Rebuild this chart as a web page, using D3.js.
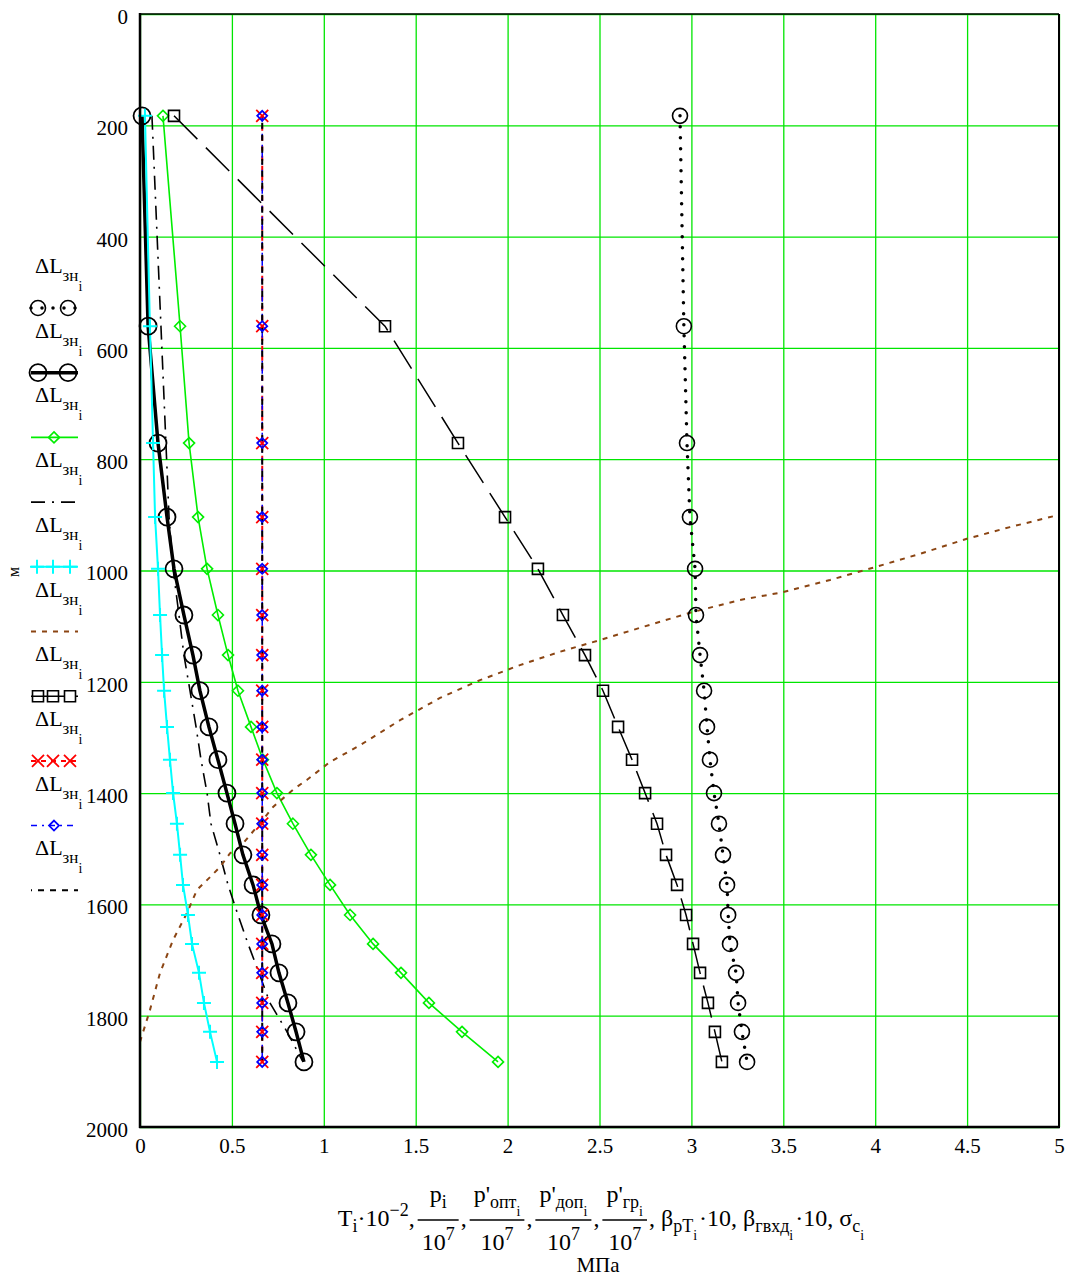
<!DOCTYPE html>
<html>
  <head>
    <meta charset="utf-8">
    <title>ΔL зн по глубине</title>
    <style>
      body{margin:0;background:#fff}
      svg{display:block;font-family:"Liberation Serif","DejaVu Serif",serif}
      svg text{font-family:"Liberation Serif","DejaVu Serif",serif}
    </style>
  </head>
  <body>
    <svg width="1069" height="1277"></svg>
    <script src="https://d3js.org/d3.v7.min.js"></script>
    <script>
      // depth of the computation nodes, m
      var depth = [183, 561, 771, 904, 997, 1080, 1152, 1216, 1281, 1340, 1400, 1455, 1511, 1565, 1619, 1671, 1723, 1777, 1829, 1883]

      var serT    = [2.938, 2.959, 2.976, 2.992, 3.020, 3.025, 3.047, 3.069, 3.085, 3.101, 3.123, 3.150, 3.172, 3.194, 3.200, 3.210, 3.243, 3.254, 3.275, 3.303]
      var serP    = [0.011, 0.044, 0.098, 0.147, 0.185, 0.239, 0.288, 0.326, 0.375, 0.424, 0.473, 0.517, 0.560, 0.615, 0.658, 0.718, 0.756, 0.805, 0.849, 0.892]
      var serOpt  = [0.125, 0.218, 0.267, 0.316, 0.365, 0.424, 0.479, 0.533, 0.604, 0.669, 0.745, 0.832, 0.930, 1.034, 1.143, 1.268, 1.420, 1.572, 1.752, 1.948]
      var serDop  = [0.065, 0.114, 0.141, 0.158, 0.180, 0.212, 0.239, 0.272, 0.305, 0.332, 0.365, 0.386, 0.435, 0.479, 0.533, 0.588, 0.647, 0.707, 0.800, 0.887]
      var serGr   = [0.027, 0.054, 0.071, 0.082, 0.098, 0.109, 0.120, 0.131, 0.147, 0.163, 0.180, 0.201, 0.218, 0.234, 0.261, 0.283, 0.321, 0.348, 0.381, 0.419]
      var serSq   = [0.185, 1.333, 1.730, 1.986, 2.165, 2.301, 2.421, 2.519, 2.601, 2.677, 2.748, 2.813, 2.862, 2.922, 2.971, 3.009, 3.047, 3.090, 3.128, 3.166]
      var serRed  = [0.665, 0.665, 0.665, 0.665, 0.665, 0.665, 0.665, 0.665, 0.665, 0.665, 0.665, 0.665, 0.665, 0.665, 0.665, 0.665, 0.665, 0.665, 0.665, 0.665]
      var serBlue = [0.665, 0.665, 0.665, 0.665, 0.665, 0.665, 0.665, 0.665, 0.665, 0.665, 0.665, 0.665, 0.665, 0.665, 0.665, 0.665, 0.665, 0.665, 0.665, 0.665]
      var serBlk  = [0.665, 0.665, 0.665, 0.665, 0.665, 0.665, 0.665, 0.665, 0.665, 0.665, 0.665, 0.665, 0.665, 0.665, 0.665, 0.665, 0.665, 0.665, 0.665, 0.665]

      // brown curve has its own dense points
      var brownX     = [0, 0.054, 0.109, 0.180, 0.256, 0.310, 0.381, 0.435, 0.490, 0.544, 0.653, 0.724, 0.832, 0.909, 1.034, 1.197, 1.415, 1.632, 1.850, 2.067, 2.285, 2.503, 2.720, 2.992, 3.264, 3.498, 3.754, 3.999, 4.244, 4.499, 4.733, 5.0]
      var brownDepth = [1847, 1790, 1723, 1664, 1615, 1574, 1551, 1533, 1508, 1497, 1454, 1425, 1394, 1376, 1344, 1314, 1269, 1229, 1197, 1170, 1146, 1125, 1103, 1076, 1053, 1039, 1017, 994, 970, 943, 922, 900]

      var xTicks = [0, 0.5, 1, 1.5, 2, 2.5, 3, 3.5, 4, 4.5, 5]
      var yTicks = [0, 200, 400, 600, 800, 1000, 1200, 1400, 1600, 1800, 2000]

      var serif = '"Liberation Serif", "DejaVu Serif", serif'
      var svg = d3.select("svg")
      var x = d3.scaleLinear().domain([0, 5]).range([140, 1059])
      var y = d3.scaleLinear().domain([0, 2000]).range([14, 1127])

      // grid + tick labels
      svg.append("g").attr("transform", "translate(0,1127)")
        .call(d3.axisBottom(x).tickValues(xTicks).tickSize(-1113).tickFormat(function(d){return d}))
        .call(function(g){
          g.attr("font-family", serif).attr("font-size", 21)
          g.select(".domain").remove()
          g.selectAll("line").attr("stroke", "#00e600").attr("stroke-width", 1.3)
          g.selectAll("text").attr("font-family", serif).attr("font-size", 21).attr("fill", "#000").attr("y", 26).attr("dy", 0)
        })
      svg.append("g").attr("transform", "translate(140,0)")
        .call(d3.axisLeft(y).tickValues(yTicks).tickSize(-919).tickFormat(function(d){return d}))
        .call(function(g){
          g.attr("font-family", serif).attr("font-size", 21)
          g.select(".domain").remove()
          g.selectAll("line").attr("stroke", "#00e600").attr("stroke-width", 1.3)
          g.selectAll("text").attr("font-family", serif).attr("font-size", 21).attr("fill", "#000").attr("x", -12).attr("dy", "0.45em")
        })

      var traces = [
        {xs: serT, ys: depth, stroke: "#000", width: 3.5, dash: "0,11", cap: "round", marker: "circle", ms: 7.5, mc: "#000", mw: 1.6, leg: [38, 68]},
        {xs: serP, ys: depth, stroke: "#000", width: 3.5, dash: null, marker: "circle", ms: 8.5, mc: "#000", mw: 1.8, leg: [38, 68]},
        {xs: serOpt, ys: depth, stroke: "#00ee00", width: 1.6, dash: null, marker: "diamond", ms: 5.5, mc: "#00ee00", mw: 1.6, leg: [54]},
        {xs: serDop, ys: depth, stroke: "#000", width: 1.6, dash: "14,7,2,7", marker: null, leg: []},
        {xs: serGr, ys: depth, stroke: "#00ffff", width: 2, dash: null, marker: "plus", ms: 7, mc: "#00ffff", mw: 2, leg: [37, 53, 70]},
        {xs: brownX, ys: brownDepth, stroke: "#8b4513", width: 2, dash: "5,6", marker: null, leg: []},
        {xs: serSq, ys: depth, stroke: "#000", width: 1.5, dash: "33,12", marker: "square", ms: 5.5, mc: "#000", mw: 1.6, leg: [38, 53, 70]},
        {xs: serRed, ys: depth, stroke: "#ff0000", width: 2, dash: "5,5", marker: "x", ms: 6, mc: "#ff0000", mw: 1.8, leg: [38, 53, 70]},
        {xs: serBlue, ys: depth, stroke: "#0000ff", width: 1.5, dash: "6,5,2,5", marker: "diamond", ms: 5, mc: "#0000ff", mw: 1.8, leg: [54]},
        {xs: serBlk, ys: depth, stroke: "#000", width: 2, dash: "6,6", offset: 5, marker: null, leg: []}
      ]

      function markerPath(type, s){
        if(type == "diamond") return "M0," + (-s) + "L" + s + ",0L0," + s + "L" + (-s) + ",0Z"
        if(type == "plus") return "M" + (-s) + ",0H" + s + "M0," + (-s) + "V" + s
        if(type == "x") return "M" + (-s) + "," + (-s) + "L" + s + "," + s + "M" + (-s) + "," + s + "L" + s + "," + (-s)
        if(type == "square") return "M" + (-s) + "," + (-s) + "h" + (2*s) + "v" + (2*s) + "h" + (-2*s) + "Z"
        return null
      }
      function drawMarker(g, t, cx, cy){
        if(t.marker == "circle"){
          g.append("circle").attr("cx", cx).attr("cy", cy).attr("r", t.ms)
            .attr("fill", "none").attr("stroke", t.mc).attr("stroke-width", t.mw)
        } else {
          g.append("path").attr("transform", "translate(" + cx + "," + cy + ")")
            .attr("d", markerPath(t.marker, t.ms))
            .attr("fill", "none").attr("stroke", t.mc).attr("stroke-width", t.mw)
        }
      }
      function styleLine(sel, t){
        sel.attr("fill", "none").attr("stroke", t.stroke).attr("stroke-width", t.width)
          .attr("stroke-dasharray", t.dash).attr("stroke-dashoffset", t.offset || null)
          .attr("stroke-linecap", t.cap || "butt")
      }

      var line = d3.line().x(function(d){return x(d[0])}).y(function(d){return y(d[1])})
      var plot = svg.append("g")
      traces.forEach(function(t){
        var pts = t.xs.map(function(v, i){return [v, t.ys[i]]})
        plot.append("path").datum(pts).attr("d", line).call(styleLine, t)
      })
      traces.forEach(function(t){
        if(!t.marker) return
        t.xs.forEach(function(v, i){ drawMarker(plot, t, x(v), y(t.ys[i])) })
      })

      // frame
      svg.append("line").attr("x1", 140).attr("x2", 1059).attr("y1", 14).attr("y2", 14).attr("stroke", "#000").attr("stroke-width", 1.5)
      svg.append("line").attr("x1", 1059).attr("x2", 1059).attr("y1", 14).attr("y2", 1127).attr("stroke", "#000").attr("stroke-width", 2)
      svg.append("line").attr("x1", 140).attr("x2", 140).attr("y1", 13).attr("y2", 1128).attr("stroke", "#000").attr("stroke-width", 2.5)
      svg.append("line").attr("x1", 139).attr("x2", 1060).attr("y1", 1127).attr("y2", 1127).attr("stroke", "#000").attr("stroke-width", 2.5)

      // helpers for math-like text
      function run(g, x0, base, parts){
        var cx = x0
        parts.forEach(function(p){
          var el = g.append("text").attr("x", cx).attr("y", base + p[2]).attr("font-size", p[1]).text(p[0])
          cx += el.node().getComputedTextLength() + (p[3] || 0)
        })
        return cx
      }

      // legend
      var leg = svg.append("g")
      traces.forEach(function(t, i){
        var sy = 308 + i * 64.7
        run(leg, 35, sy - 35, [["ΔL", 22, 0], ["зн", 17, 8], ["i", 14, 18]])
        leg.append("line").attr("x1", 31).attr("x2", 78).attr("y1", sy).attr("y2", sy).call(styleLine, t)
        t.leg.forEach(function(mx){ drawMarker(leg, t, mx, sy) })
      })

      // y axis unit
      svg.append("text").attr("transform", "translate(19,572) rotate(-90)").attr("text-anchor", "middle")
        .attr("font-size", 16).text("м")

      // x axis expression
      var F = 24, S = 18, SS = 14
      var base = 1226, bar = 1220, numBase = 1202, denBase = 1250
      var ex = svg.append("g")
      function frac(cx, num){
        var gn = ex.append("g"), gd = ex.append("g")
        var wn = run(gn, 0, numBase, num)
        var wd = run(gd, 0, denBase, [["10", F, 0], ["7", S, -10]])
        var w = Math.max(wn, wd) + 8
        gn.attr("transform", "translate(" + (cx + (w - wn) / 2) + ",0)")
        gd.attr("transform", "translate(" + (cx + (w - wd) / 2) + ",0)")
        ex.append("line").attr("x1", cx).attr("x2", cx + w).attr("y1", bar).attr("y2", bar).attr("stroke", "#000").attr("stroke-width", 1.3)
        return cx + w
      }
      var cx = 0
      cx = run(ex, cx, base, [["T", F, 0], ["i", S, 6], ["·10", F, 0], ["−2", S, -10], [",", F, 0]])
      cx = frac(cx + 3, [["p", F, 0], ["i", S, 6]])
      cx = run(ex, cx + 2, base, [[",", F, 0]])
      cx = frac(cx + 3, [["p'", F, 0], ["опт", S, 6], ["i", SS, 14]])
      cx = run(ex, cx + 2, base, [[",", F, 0]])
      cx = frac(cx + 3, [["p'", F, 0], ["доп", S, 6], ["i", SS, 14]])
      cx = run(ex, cx + 2, base, [[",", F, 0]])
      cx = frac(cx + 3, [["p'", F, 0], ["гр", S, 6], ["i", SS, 14]])
      cx = run(ex, cx + 2, base, [[", β", F, 0], ["pT", S, 6], ["i", SS, 14, 2], ["·10, β", F, 0], ["гвхд", S, 6], ["i", SS, 14, 2],
        ["·10, σ", F, 0], ["c", S, 6], ["i", SS, 14]])
      var bb = ex.node().getBBox()
      ex.attr("transform", "translate(" + (601 - bb.width / 2 - bb.x) + ",0)")

      svg.append("text").attr("x", 598).attr("y", 1272).attr("text-anchor", "middle").attr("font-size", 21).text("МПа")
    </script>
  </body>
</html>
